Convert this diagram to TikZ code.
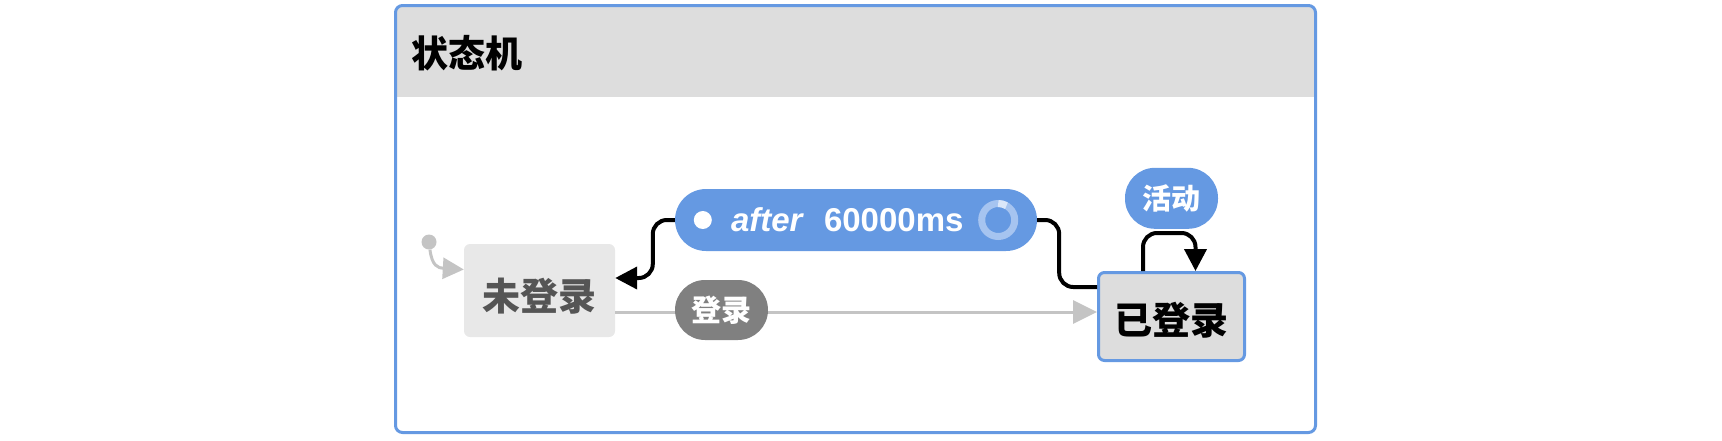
\documentclass[tikz,border=0pt]{standalone}
\usepackage{fontspec}
\setmainfont{Liberation Sans}
\newfontfamily\cjk{Noto Sans CJK SC}
\usetikzlibrary{positioning, arrows.meta}

\definecolor{machineblue}{RGB}{101,153,226}
\definecolor{headgray}{RGB}{221,221,221}
\definecolor{idlegray}{RGB}{232,232,232}
\definecolor{idletext}{RGB}{85,85,85}
\definecolor{initgray}{RGB}{196,196,196}
\definecolor{eventgray}{RGB}{128,128,128}
\definecolor{ringblue}{RGB}{166,196,240}

\tikzset{
    state/.style={rectangle, rounded corners=6pt, inner sep=0pt, text depth=0pt, font=\cjk\bfseries\fontsize{38}{40}\selectfont},
    event/.style={rectangle, fill=machineblue, text=white, inner sep=0pt, font=\cjk\bfseries\fontsize{29}{31}\selectfont},
    trans/.style={line width=4pt, black, rounded corners=14pt},
    blacktip/.style={-{Triangle[length=22pt, width=22pt]}}
}

\begin{document}
\begin{tikzpicture}[x=1pt, y=-1pt]
        \useasboundingbox (0,0) rectangle (1722,440);

        % Machine frame
        \begin{scope}
            \clip[rounded corners=7pt] (395.5,5.5) rectangle (1315.5,432.5);
            \fill[headgray] (395,5) rectangle (1316,97);
        \end{scope}
        \draw[machineblue, line width=3pt, rounded corners=7pt] (395.5,5.5) rectangle (1315.5,432.5);
        \node[anchor=west, inner sep=0pt, font=\cjk\bfseries\fontsize{37}{40}\selectfont] (title) at (411,53) {状态机};

        % States
        \node[state, fill=idlegray, text=idletext, minimum width=151pt, minimum height=93pt, text height=39pt] (idle) at (539.5,290.5) {未登录};
        \node[state, fill=headgray, draw=machineblue, line width=3pt, minimum width=146pt, minimum height=88pt, text height=36pt] (auth) at (1171.5,316.5) {已登录};

        % Initial state
        \node[circle, fill=initgray, minimum size=15pt, inner sep=0pt] (init) at (429,242) {};
        \draw[initgray, line width=3pt, -{Triangle[length=21pt, width=21pt]}] (init) .. controls (432,266) and (438,268) .. ([yshift=21pt]idle.west);

        % Login transition
        \draw[initgray, line width=3pt, -{Triangle[length=24pt, width=23pt]}] ([yshift=-21.5pt]idle.east) -- ([yshift=4.5pt]auth.west);
        \node[event, fill=eventgray, minimum width=93pt, minimum height=60pt, rounded corners=30pt, font=\cjk\bfseries\fontsize{30}{31}\selectfont] (login) at (721.5,310) {登录};

        % Timer transition
        \node[event, minimum width=362pt, minimum height=62pt, rounded corners=31pt] (timer) at (856,220) {};
        \node[circle, fill=white, minimum size=18pt, inner sep=0pt] (timerdot) at ([xshift=28pt]timer.west) {};
        \node[anchor=west, text=white, inner sep=0pt, font=\bfseries\fontsize{33}{35}\selectfont] (timerlabel) at ([xshift=56pt]timer.west) {\textit{after}\hspace{20pt}60000ms};
        \draw[ringblue, line width=7pt] ([xshift=-39pt]timer.east) circle (16.5pt);
        \draw[white!60!ringblue, line width=7pt] ([xshift=-39pt]timer.east) ++(90:16.5pt) arc (90:60:16.5pt);
        \draw[trans, blacktip] (timer.west) -- ++(-22,0) -- ++(0,58) -- ([yshift=12.5pt]idle.east);
        \draw[trans] (timer.east) -- ++(22,0) -- ++(0,67) -- ([yshift=29.5pt]auth.west);

        % Self loop
        \draw[trans, blacktip, rounded corners=14pt] ([xshift=-28.5pt]auth.north) -- ++(0,-38) -| ([xshift=24pt]auth.north);
        \node[event, minimum width=93pt, minimum height=61pt, rounded corners=30pt, above=42pt of auth] (activity) {活动};

    \end{tikzpicture}
\end{document}
